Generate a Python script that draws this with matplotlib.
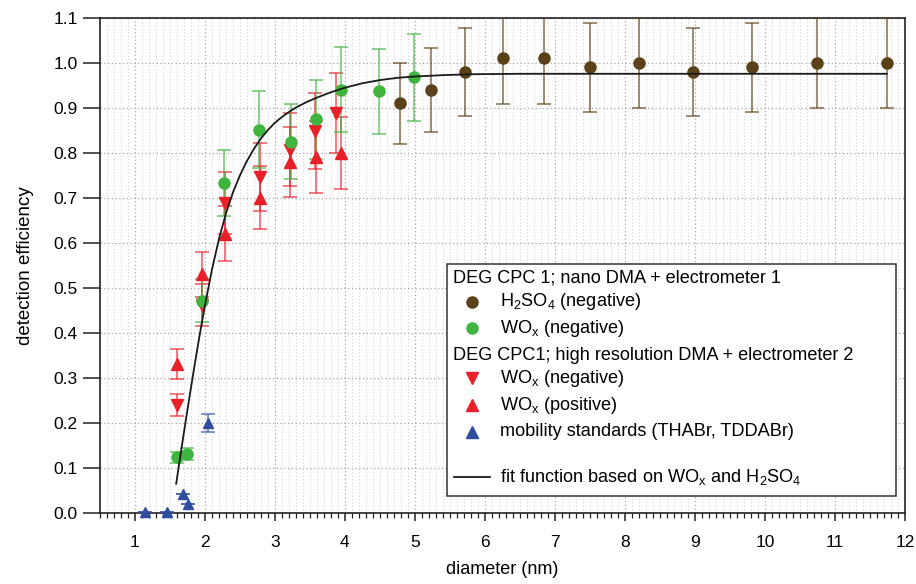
#detection efficiency vs diameter
import matplotlib.pyplot as plt
from matplotlib.ticker import MultipleLocator, FormatStrFormatter
from matplotlib.patches import Rectangle

plt.rcParams['font.family'] = ['Liberation Sans', 'DejaVu Sans']
plt.rcParams['mathtext.default'] = 'regular'

#DEG CPC 1, nano DMA: H2SO4 (negative)
h2so4_d = [4.79, 5.23, 5.72, 6.26, 6.85, 7.50, 8.20, 8.97, 9.81, 10.74, 11.74]
h2so4_eff = [0.91, 0.94, 0.98, 1.01, 1.01, 0.99, 1.00, 0.98, 0.99, 1.00, 1.00]
h2so4_err = [0.091, 0.094, 0.098, 0.101, 0.101, 0.099, 0.100, 0.098, 0.099, 0.100, 0.100]

#DEG CPC 1, nano DMA: WOx (negative)
wox_nano_d = [1.60, 1.75, 1.96, 2.27, 2.77, 3.23, 3.59, 3.94, 4.49, 4.99]
wox_nano_eff = [0.124, 0.131, 0.472, 0.733, 0.852, 0.825, 0.875, 0.941, 0.937, 0.968]
wox_nano_err = [0.012, 0.013, 0.047, 0.073, 0.085, 0.083, 0.088, 0.094, 0.094, 0.097]

#DEG CPC1, high resolution DMA: WOx (negative)
wox_neg_d = [1.60, 1.96, 2.29, 2.79, 3.22, 3.58, 3.88]
wox_neg_eff = [0.240, 0.462, 0.688, 0.747, 0.807, 0.849, 0.888]
wox_neg_err = [0.024, 0.046, 0.069, 0.075, 0.081, 0.085, 0.089]

#DEG CPC1, high resolution DMA: WOx (positive)
wox_pos_d = [1.60, 1.96, 2.29, 2.79, 3.22, 3.59, 3.95]
wox_pos_eff = [0.331, 0.531, 0.621, 0.700, 0.780, 0.792, 0.800]
wox_pos_err = [0.033, 0.050, 0.062, 0.070, 0.078, 0.080, 0.080]

#mobility standards (THABr, TDDABr)
mob_d = [1.15, 1.46, 1.69, 1.76, 2.05]
mob_eff = [0.002, 0.003, 0.042, 0.019, 0.200]
mob_err = [0.0, 0.0, 0.0, 0.0, 0.020]

#fit function
fit_d = [1.59, 1.65, 1.70, 1.75, 1.80, 1.85, 1.90, 1.95, 2.00, 2.10, 2.20, 2.30,
         2.40, 2.50, 2.60, 2.70, 2.80, 2.90, 3.00, 3.10, 3.20, 3.30, 3.45, 3.60,
         3.80, 4.00, 4.25, 4.50, 4.75, 5.00, 5.40, 5.80, 6.50, 11.74]
fit_eff = [0.065, 0.127, 0.178, 0.228, 0.277, 0.325, 0.372, 0.417, 0.460, 0.540,
           0.608, 0.665, 0.712, 0.750, 0.782, 0.809, 0.832, 0.851, 0.867, 0.880,
           0.891, 0.901, 0.913, 0.923, 0.935, 0.945, 0.955, 0.962, 0.967, 0.970,
           0.973, 0.975, 0.976, 0.976]

brown = '#5a4119'
green = '#3fb43f'
red = '#e8202a'
blue = '#2f4d9e'

fig = plt.figure(figsize=(9.16, 5.84), dpi=100)
ax = fig.add_axes([0.109, 0.1216, 0.879, 0.8476])

def series(x, y, e, color, marker, ms, clip=True):
    eb = ax.errorbar(x, y, yerr=e, fmt='none', ecolor=color, alpha=0.7,
                     elinewidth=1.2, capsize=5, capthick=1.2, zorder=3)
    for part in eb.get_children():
        part.set_clip_on(clip)
    ax.plot(x, y, ls='none', marker=marker, color=color, ms=ms,
            mec=color, zorder=4, clip_on=clip)

series(h2so4_d, h2so4_eff, h2so4_err, brown, 'o', 8)
series(wox_neg_d, wox_neg_eff, wox_neg_err, red, 'v', 8)
series(wox_pos_d, wox_pos_eff, wox_pos_err, red, '^', 8)
series(wox_nano_d, wox_nano_eff, wox_nano_err, green, 'o', 8)
series(mob_d, mob_eff, mob_err, blue, '^', 7, clip=False)

ax.plot(fit_d, fit_eff, color='#1a1a1a', lw=1.3, zorder=5)

ax.set_xlim(0.5, 12)
ax.set_ylim(0, 1.1)
ax.xaxis.set_major_locator(MultipleLocator(1))
ax.xaxis.set_minor_locator(MultipleLocator(0.1))
ax.yaxis.set_major_locator(MultipleLocator(0.1))
ax.yaxis.set_major_formatter(FormatStrFormatter('%.1f'))
ax.tick_params(which='major', direction='out', width=1.1, labelsize=12.5,
               color='#222222', top=False, right=False)
ax.tick_params(axis='x', which='major', length=6, pad=10)
ax.tick_params(axis='y', which='major', length=12, pad=4)
ax.tick_params(which='minor', direction='out', length=3.5, width=0.9, color='#222222')
ax.tick_params(axis='y', which='minor', left=False)

ax.grid(which='minor', axis='x', color='#d4d4d4', ls=(0, (1, 2)), lw=0.8)
ax.grid(which='major', axis='x', color='#a8a8a8', ls=(0, (1, 2)), lw=0.9)
ax.grid(which='major', axis='y', color='#a8a8a8', ls=(0, (1, 2)), lw=0.9)
ax.set_axisbelow(True)
for s in ax.spines.values():
    s.set_linewidth(1.2)
    s.set_color('#222222')

ax.set_xlabel('diameter (nm)', fontsize=13, labelpad=8)
ax.set_ylabel('detection efficiency', fontsize=13.5, labelpad=14)

#legend drawn by hand
ax.add_patch(Rectangle((0.431, 0.034), 0.558, 0.469, transform=ax.transAxes,
                       facecolor='white', edgecolor='#333333', lw=1.1, zorder=6))
fs = 13.1
tx_head = 0.438
tx_item = 0.497
mk_x = 0.4625
rows = [
    (0.474, 'DEG CPC 1; nano DMA + electrometer 1', None, None),
    (0.427, r'H$_2$SO$_4$ (negative)', brown, 'o'),
    (0.373, r'WO$_x$ (negative)', green, 'o'),
    (0.319, 'DEG CPC1; high resolution DMA + electrometer 2', None, None),
    (0.272, r'WO$_x$ (negative)', red, 'v'),
    (0.218, r'WO$_x$ (positive)', red, '^'),
    (0.164, 'mobility standards (THABr, TDDABr)', blue, '^'),
]
for y, label, color, marker in rows:
    if color is None:
        ax.text(tx_head, y, label, transform=ax.transAxes, fontsize=fs,
                va='center', ha='left', zorder=7)
    else:
        ax.plot([mk_x], [y], transform=ax.transAxes, ls='none', marker=marker,
                color=color, ms=8, zorder=7, clip_on=False)
        ax.text(tx_item, y, label, transform=ax.transAxes, fontsize=fs,
                va='center', ha='left', zorder=7)
ax.plot([0.44, 0.4845], [0.072, 0.072], transform=ax.transAxes, color='#1a1a1a',
        lw=1.3, zorder=7)
ax.text(tx_item, 0.072, r'fit function based on WO$_x$ and H$_2$SO$_4$',
        transform=ax.transAxes, fontsize=fs, va='center', ha='left', zorder=7)

plt.savefig('out.png', dpi=100)
